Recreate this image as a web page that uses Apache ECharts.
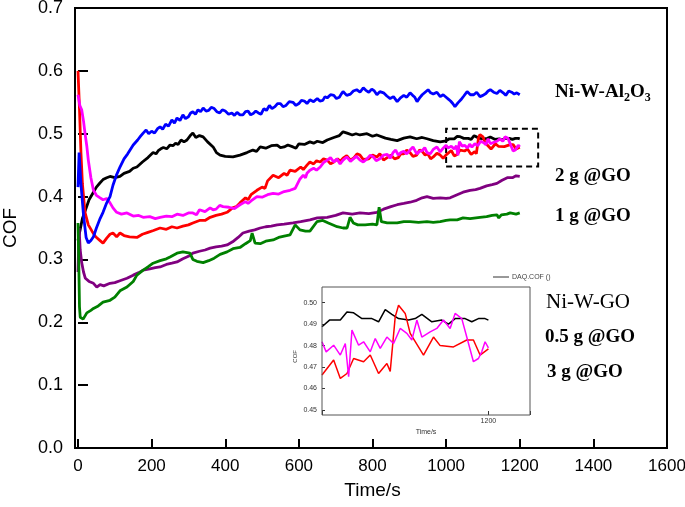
<!DOCTYPE html>
<html>
<head>
<meta charset="utf-8">
<script src="https://cdn.jsdelivr.net/npm/echarts@6/dist/echarts.min.js"></script>
<style>
  html, body { margin: 0; padding: 0; background: #fff; }
  #chart { width: 685px; height: 507px; }
</style>
</head>
<body>
<div id="chart"></div>
<script>
// COF vs time
var xTicks = [0, 200, 400, 600, 800, 1000, 1200, 1400, 1600]
var yTicks = [0, 0.1, 0.2, 0.3, 0.4, 0.5, 0.6, 0.7]
var insetYTicks = [0.45, 0.46, 0.47, 0.48, 0.49, 0.50]

var labels = ['Ni-W-Al2O3', '2 g @GO', '1 g @GO', 'Ni-W-GO', '0.5 g @GO', '3 g @GO']

var blueCOF = [[0,0.415],[3,0.47],[8,0.42],[15,0.37],[22,0.335],[28,0.326],[35,0.33],[42,0.336],[50,0.35],[60,0.365],[68,0.375],[78,0.39],[87,0.4],[95,0.418],[105,0.435],[114,0.447],[125,0.46],[135,0.468],[150,0.482],[162,0.49],[170,0.496],[177,0.501],[185,0.506],[192,0.5],[200,0.504],[208,0.501],[216,0.508],[223,0.511],[230,0.507],[238,0.515],[246,0.512],[255,0.522],[262,0.517],[269,0.525],[277,0.521],[285,0.53],[292,0.524],[300,0.527],[306,0.533],[312,0.535],[319,0.531],[326,0.538],[333,0.535],[340,0.541],[348,0.536],[355,0.537],[362,0.542],[370,0.54],[377,0.535],[385,0.533],[392,0.538],[400,0.536],[409,0.531],[418,0.533],[425,0.529],[432,0.534],[440,0.53],[448,0.53],[455,0.535],[462,0.536],[469,0.53],[476,0.532],[483,0.536],[490,0.533],[497,0.531],[505,0.54],[512,0.537],[520,0.545],[527,0.54],[535,0.543],[542,0.548],[550,0.548],[557,0.543],[565,0.545],[574,0.551],[584,0.55],[592,0.545],[600,0.548],[607,0.553],[615,0.552],[622,0.548],[630,0.554],[640,0.551],[650,0.556],[657,0.552],[665,0.553],[671,0.559],[677,0.557],[686,0.562],[695,0.561],[702,0.556],[710,0.558],[715,0.563],[720,0.567],[730,0.561],[740,0.563],[748,0.568],[757,0.57],[766,0.566],[775,0.573],[782,0.569],[790,0.566],[798,0.571],[805,0.568],[812,0.562],[820,0.567],[830,0.565],[839,0.56],[848,0.556],[857,0.559],[867,0.551],[876,0.557],[885,0.561],[893,0.558],[902,0.565],[909,0.561],[915,0.558],[921,0.551],[928,0.557],[935,0.562],[943,0.566],[951,0.57],[958,0.565],[965,0.563],[975,0.566],[984,0.559],[992,0.562],[1000,0.558],[1006,0.555],[1012,0.552],[1018,0.548],[1024,0.543],[1032,0.549],[1040,0.554],[1048,0.56],[1057,0.567],[1066,0.562],[1075,0.562],[1083,0.566],[1092,0.559],[1100,0.561],[1108,0.564],[1114,0.568],[1120,0.57],[1129,0.566],[1138,0.564],[1146,0.569],[1155,0.565],[1162,0.561],[1170,0.568],[1178,0.566],[1185,0.563],[1192,0.565],[1200,0.562]]

var blackEarly = [[0,0.33],[5,0.345],[12,0.365],[20,0.378],[30,0.395],[40,0.405],[50,0.415],[60,0.422],[68,0.427],[78,0.43],[87,0.432],[100,0.43],[114,0.432],[125,0.437],[140,0.44],[150,0.445],[160,0.447],[175,0.455],[190,0.462],[204,0.47],[212,0.468],[218,0.473],[225,0.476],[232,0.478],[241,0.476],[250,0.482],[258,0.481],[265,0.485],[272,0.483],[280,0.49],[288,0.487],[296,0.49],[305,0.497],[312,0.501],[320,0.494],[330,0.497],[340,0.495],[352,0.487],[367,0.479],[376,0.47],[386,0.466],[400,0.464],[421,0.463],[440,0.466],[459,0.47],[475,0.474],[485,0.472],[495,0.479],[510,0.477],[525,0.481],[541,0.482],[550,0.478],[560,0.479],[570,0.482],[584,0.479],[592,0.477],[600,0.484],[615,0.483],[630,0.487],[640,0.485],[650,0.488],[665,0.486],[677,0.49],[695,0.494],[710,0.497],[720,0.503],[731,0.501],[745,0.498],[755,0.5],[766,0.498],[785,0.5],[800,0.496],[812,0.498],[835,0.493],[850,0.491],[867,0.489],[885,0.493],[902,0.495],[920,0.492],[935,0.494],[948,0.492],[965,0.489],[984,0.487]]
var blackLate = [[1000,0.4888],[1009,0.4919],[1022,0.4919],[1030,0.4957],[1038,0.4953],[1048,0.4926],[1060,0.4926],[1068,0.4911],[1076,0.4968],[1084,0.4946],[1092,0.4926],[1104,0.4919],[1112,0.4926],[1120,0.4946],[1132,0.4911],[1144,0.4919],[1152,0.49],[1160,0.4926],[1172,0.4926],[1180,0.4911],[1188,0.4926],[1196,0.4926],[1200,0.4919]]

var redEarly = [[0,0.6],[4,0.54],[8,0.47],[12,0.42],[19,0.375],[28,0.355],[38,0.345],[48,0.336],[60,0.33],[68,0.326],[78,0.334],[87,0.34],[95,0.342],[105,0.336],[114,0.342],[125,0.338],[140,0.336],[160,0.335],[175,0.34],[190,0.343],[205,0.346],[223,0.35],[240,0.348],[255,0.352],[269,0.35],[285,0.353],[300,0.355],[312,0.358],[330,0.362],[345,0.362],[359,0.367],[375,0.37],[390,0.372],[405,0.375],[420,0.382],[430,0.384],[440,0.39],[455,0.398],[462,0.395],[470,0.403],[486,0.41],[500,0.415],[508,0.413],[515,0.425],[530,0.434],[545,0.43],[560,0.437],[568,0.434],[576,0.442],[590,0.44],[605,0.447],[612,0.443],[622,0.45],[630,0.455],[640,0.452],[648,0.457],[658,0.455],[667,0.46],[677,0.458],[686,0.452],[695,0.455],[705,0.46],[712,0.456],[720,0.461],[730,0.465],[740,0.458],[750,0.462],[758,0.468],[766,0.466],[775,0.459],[790,0.46],[800,0.466],[812,0.463],[820,0.468],[830,0.458],[840,0.462],[850,0.466],[860,0.46],[870,0.462],[877,0.468],[885,0.468],[893,0.474],[902,0.47],[910,0.464],[920,0.466],[928,0.474],[935,0.472],[943,0.466],[950,0.468],[958,0.46],[965,0.463],[975,0.469],[984,0.466],[992,0.461]]
var redLate = [[1000,0.4663],[1014,0.4733],[1022,0.4647],[1030,0.467],[1038,0.474],[1050,0.4725],[1058,0.4756],[1068,0.467],[1078,0.4717],[1082,0.468],[1088,0.4934],[1092,0.4988],[1100,0.495],[1106,0.4857],[1122,0.4756],[1134,0.484],[1142,0.48],[1158,0.4794],[1174,0.4826],[1182,0.4826],[1190,0.4756],[1200,0.4785]]

var magentaEarly = [[0,0.562],[5,0.545],[10,0.538],[15,0.52],[19,0.501],[24,0.48],[28,0.458],[35,0.43],[42,0.41],[50,0.402],[60,0.398],[68,0.395],[78,0.397],[87,0.39],[95,0.382],[105,0.375],[118,0.372],[133,0.374],[150,0.369],[165,0.37],[177,0.367],[195,0.368],[210,0.365],[223,0.367],[240,0.369],[255,0.368],[269,0.372],[285,0.37],[300,0.374],[312,0.374],[322,0.371],[330,0.379],[345,0.376],[359,0.382],[367,0.379],[375,0.38],[385,0.386],[394,0.384],[410,0.383],[425,0.381],[440,0.387],[455,0.392],[462,0.389],[470,0.393],[486,0.4],[500,0.399],[515,0.403],[530,0.405],[545,0.404],[560,0.408],[576,0.41],[590,0.413],[603,0.428],[612,0.434],[618,0.43],[622,0.437],[630,0.442],[640,0.445],[648,0.442],[658,0.447],[667,0.454],[677,0.458],[686,0.462],[695,0.455],[703,0.46],[712,0.452],[720,0.458],[730,0.463],[740,0.456],[748,0.46],[756,0.464],[766,0.458],[775,0.455],[785,0.46],[794,0.466],[802,0.463],[810,0.457],[820,0.46],[830,0.466],[840,0.467],[848,0.461],[856,0.47],[863,0.474],[870,0.466],[877,0.47],[885,0.472],[893,0.468],[902,0.474],[910,0.479],[920,0.468],[928,0.472],[935,0.473],[942,0.478],[948,0.47],[957,0.468],[965,0.475],[975,0.479],[984,0.471],[992,0.477]]
var magentaLate = [[1000,0.4818],[1005,0.4771],[1014,0.4802],[1022,0.4756],[1028,0.481],[1032,0.4655],[1036,0.4872],[1044,0.4802],[1050,0.4818],[1058,0.4771],[1064,0.4833],[1070,0.4787],[1078,0.484],[1086,0.481],[1094,0.488],[1102,0.4857],[1108,0.4826],[1114,0.4919],[1120,0.484],[1130,0.4864],[1138,0.488],[1146,0.4919],[1154,0.488],[1160,0.495],[1168,0.4926],[1174,0.484],[1182,0.4725],[1188,0.474],[1192,0.4771],[1196,0.4818],[1200,0.479]]

var purpleCOF = [[0,0.28],[3,0.35],[6,0.315],[10,0.295],[15,0.28],[20,0.27],[30,0.265],[42,0.262],[51,0.256],[60,0.26],[70,0.258],[87,0.262],[100,0.263],[114,0.266],[133,0.27],[150,0.275],[165,0.279],[177,0.283],[195,0.285],[210,0.287],[223,0.288],[240,0.292],[255,0.294],[269,0.296],[285,0.301],[300,0.305],[312,0.31],[330,0.313],[345,0.315],[359,0.318],[375,0.32],[390,0.321],[405,0.323],[420,0.328],[435,0.335],[448,0.342],[465,0.345],[480,0.347],[495,0.35],[510,0.352],[525,0.353],[541,0.355],[560,0.356],[584,0.358],[605,0.36],[630,0.363],[650,0.366],[677,0.367],[700,0.37],[720,0.374],[745,0.372],[766,0.374],[790,0.373],[812,0.375],[830,0.38],[850,0.384],[867,0.387],[885,0.389],[902,0.391],[920,0.394],[935,0.398],[948,0.4],[965,0.397],[984,0.398],[1000,0.397],[1011,0.398],[1030,0.403],[1046,0.407],[1065,0.41],[1080,0.411],[1092,0.413],[1110,0.417],[1125,0.419],[1138,0.421],[1152,0.426],[1166,0.43],[1180,0.43],[1190,0.433],[1200,0.432]]

var greenCOF = [[0,0.358],[2,0.3],[4,0.225],[6,0.208],[14,0.205],[24,0.215],[35,0.219],[42,0.222],[55,0.226],[68,0.232],[87,0.235],[100,0.24],[114,0.25],[133,0.256],[150,0.265],[160,0.275],[177,0.283],[190,0.288],[204,0.294],[223,0.298],[240,0.301],[250,0.304],[269,0.31],[285,0.312],[304,0.31],[312,0.3],[323,0.297],[340,0.295],[355,0.298],[370,0.302],[386,0.308],[405,0.312],[421,0.317],[440,0.319],[455,0.325],[468,0.33],[473,0.342],[481,0.326],[495,0.325],[510,0.329],[530,0.331],[545,0.335],[560,0.337],[576,0.339],[590,0.355],[603,0.347],[618,0.345],[630,0.345],[649,0.36],[665,0.362],[680,0.358],[704,0.352],[720,0.35],[731,0.35],[739,0.367],[748,0.358],[760,0.355],[780,0.355],[800,0.356],[812,0.355],[818,0.383],[824,0.36],[840,0.358],[867,0.358],[885,0.36],[902,0.36],[925,0.359],[948,0.36],[965,0.359],[984,0.36],[1000,0.362],[1011,0.363],[1030,0.363],[1046,0.366],[1065,0.365],[1092,0.367],[1110,0.368],[1125,0.37],[1138,0.371],[1143,0.366],[1150,0.371],[1165,0.372],[1174,0.374],[1190,0.372],[1200,0.374]]

// dashed zoom box on the main plot: [time, COF] corners
var zoomBox = [[1000, 0.448], [1250, 0.508]]
var insetRange = [1000, 1250]

var sans = 'Liberation Sans, Arial, sans-serif'
var serif = 'Liberation Serif, Times New Roman, serif'

var myChart = echarts.init(document.getElementById('chart'))

function mainLine(name, data, color, extra) {
    var s = {
        name: name,
        type: 'line',
        data: data,
        showSymbol: false,
        lineStyle: { color: color, width: 2.8 },
        itemStyle: { color: color },
        animation: false,
        silent: true
    }
    return Object.assign(s, extra || {})
}

function insetLine(name, data, color) {
    return {
        name: name + ' (inset)',
        type: 'line',
        xAxisIndex: 1,
        yAxisIndex: 1,
        data: data,
        showSymbol: false,
        lineStyle: { color: color, width: 1.5 },
        animation: false,
        silent: true
    }
}

function labelText(s) {
    // Al2O3 -> subscripts
    if (/\d$/.test(s) && s.indexOf('Al') >= 0) {
        return s.replace(/([A-Za-z\-]+?)(\d)/g, '{b|$1}{s|$2}')
    }
    return s
}

var labelPos = [
    { x: 555, y: 92, bold: true },
    { x: 555, y: 176, bold: true },
    { x: 555, y: 216, bold: true },
    { x: 546, y: 302, bold: false },
    { x: 545, y: 337, bold: true },
    { x: 547, y: 372, bold: true }
]

var graphics = [
    {
        type: 'rect', z: 100, silent: true,
        shape: { x: 75, y: 8, width: 592, height: 440 },
        style: { fill: 'rgba(0,0,0,0)', stroke: '#000', lineWidth: 2 }
    },
    {
        type: 'rect', z: 100, silent: true,
        shape: { x: 322, y: 287, width: 208, height: 128 },
        style: { fill: 'rgba(0,0,0,0)', stroke: '#555', lineWidth: 1 }
    },
    {
        type: 'line', z: 100, silent: true,
        shape: { x1: 493, y1: 277, x2: 509, y2: 277 },
        style: { stroke: '#333', lineWidth: 1 }
    },
    {
        type: 'text', z: 100, silent: true, x: 512, y: 277,
        style: { text: 'DAQ.COF ()', fontSize: 7, fontFamily: sans, fill: '#444', verticalAlign: 'middle' }
    }
]

labels.forEach(function (t, i) {
    var p = labelPos[i]
    var txt = labelText(t)
    var st = {
        text: txt,
        fontSize: p.bold ? 19 : 21,
        fontWeight: p.bold ? 'bold' : 'normal',
        fontFamily: serif,
        fill: '#000',
        verticalAlign: 'middle'
    }
    if (txt !== t) {
        st.rich = {
            b: { fontSize: 19, fontWeight: 'bold', fontFamily: serif, lineHeight: 24 },
            s: { fontSize: 12, fontWeight: 'bold', fontFamily: serif, lineHeight: 24, padding: [12, 0, 0, 0] }
        }
    }
    graphics.push({ type: 'text', z: 100, silent: true, x: p.x, y: p.y, style: st })
})

var option = {
    backgroundColor: '#fff',
    animation: false,
    grid: [
        { left: 78, right: 18, top: 8, bottom: 59, containLabel: false, outerBoundsMode: 'none' },
        { left: 322, width: 208, top: 302.7, height: 107.3, containLabel: false, outerBoundsMode: 'none' }
    ],
    xAxis: [{
        type: 'value',
        min: xTicks[0],
        max: xTicks[xTicks.length - 1],
        interval: xTicks[1] - xTicks[0],
        name: 'Time/s',
        nameLocation: 'middle',
        nameGap: 33,
        nameTextStyle: { fontSize: 19, fontFamily: sans, color: '#000' },
        axisLine: { show: false },
        axisTick: { show: true, inside: true, length: 9, lineStyle: { color: '#000', width: 2 } },
        axisLabel: { fontSize: 17, fontFamily: sans, color: '#000', margin: 10, formatter: function (v) { return String(v) } },
        splitLine: { show: false }
    }, {
        type: 'value',
        gridIndex: 1,
        min: insetRange[0],
        max: insetRange[1],
        interval: 200,
        offset: 5,
        name: 'Time/s',
        nameLocation: 'middle',
        nameGap: 14,
        nameTextStyle: { fontSize: 7, fontFamily: sans, color: '#333' },
        axisLine: { show: false },
        axisTick: { show: true, inside: true, length: 4, lineStyle: { color: '#333', width: 1 } },
        axisLabel: {
            fontSize: 7, fontFamily: sans, color: '#333', margin: 3,
            formatter: function (v) { return v === 1200 ? '1200' : '' }
        },
        splitLine: { show: false }
    }],
    yAxis: [{
        type: 'value',
        min: yTicks[0],
        max: yTicks[yTicks.length - 1],
        interval: 0.1,
        offset: 3,
        name: 'COF',
        nameLocation: 'middle',
        nameRotate: 90,
        nameGap: 55,
        nameTextStyle: { fontSize: 19, fontFamily: sans, color: '#000' },
        axisLine: { show: false },
        axisTick: { show: true, inside: true, length: 10, lineStyle: { color: '#000', width: 2 } },
        axisLabel: { fontSize: 18, fontFamily: sans, color: '#000', margin: 12, formatter: function (v) { return v.toFixed(1) } },
        splitLine: { show: false }
    }, {
        type: 'value',
        gridIndex: 1,
        min: insetYTicks[0],
        max: insetYTicks[insetYTicks.length - 1],
        interval: 0.01,
        name: 'COF',
        nameLocation: 'middle',
        nameRotate: 90,
        nameGap: 24,
        nameTextStyle: { fontSize: 6, fontFamily: sans, color: '#333' },
        axisLine: { show: false },
        axisTick: { show: true, inside: true, length: 3, lineStyle: { color: '#333', width: 1 } },
        axisLabel: { fontSize: 7, fontFamily: sans, color: '#333', margin: 5, formatter: function (v) { return v.toFixed(2) } },
        splitLine: { show: false }
    }],
    series: [
        mainLine('Ni-W-GO', blackEarly.concat(blackLate), '#000000', {
            markArea: {
                silent: true,
                label: { show: false },
                itemStyle: { color: 'rgba(0,0,0,0)', borderColor: '#000', borderWidth: 2, borderType: [6, 4] },
                data: [[{ coord: zoomBox[0] }, { coord: zoomBox[1] }]]
            }
        }),
        mainLine('0.5 g @GO', redEarly.concat(redLate), '#ff0000'),
        mainLine('3 g @GO', magentaEarly.concat(magentaLate), '#ff00ff'),
        mainLine('Ni-W-Al2O3', blueCOF, '#0000ff'),
        mainLine('2 g @GO', purpleCOF, '#800080'),
        mainLine('1 g @GO', greenCOF, '#008000'),
        insetLine('Ni-W-GO', blackLate, '#000000'),
        insetLine('0.5 g @GO', redLate, '#ff0000'),
        insetLine('3 g @GO', magentaLate, '#ff00ff')
    ],
    graphic: graphics
}

myChart.setOption(option)
</script>
</body>
</html>
